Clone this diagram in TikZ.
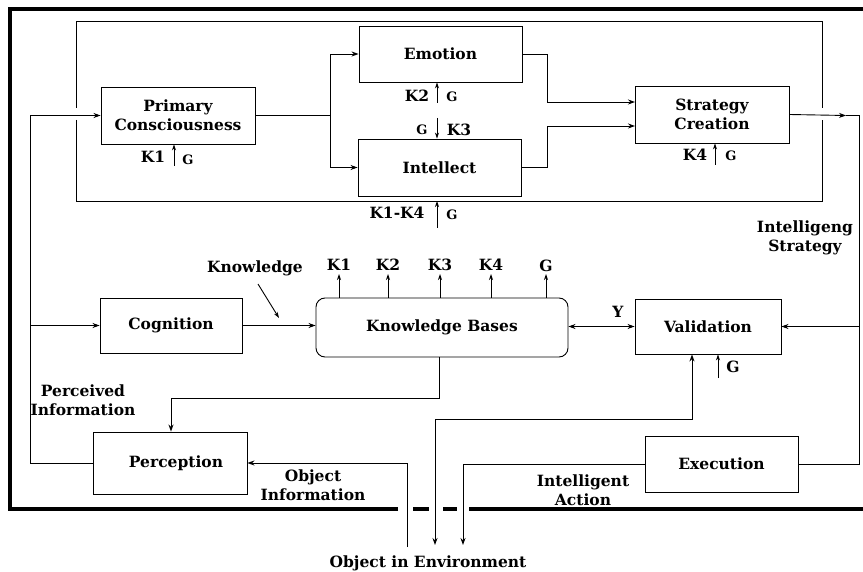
\documentclass[tikz,border=0pt]{standalone}
\usepackage{fontspec}
\setmainfont{DejaVu Serif}
\usetikzlibrary{arrows.meta}
\begin{document}
\begin{tikzpicture}[x=1pt,y=-1pt,
  font=\fontsize{15.5}{19}\selectfont\bfseries,
  ln/.style={line width=0.9pt},
  frame/.style={line width=3.3pt},
  arr/.style={ln,-{Stealth[length=7pt,width=5pt]}},
  darr/.style={ln,{Stealth[length=7pt,width=5pt]}-{Stealth[length=7pt,width=5pt]}},
  karr/.style={ln,-{Stealth[length=6pt,width=4pt]}},
  box/.style={draw,ln,inner sep=0pt,align=center},
  lbl/.style={inner sep=0pt,align=center}]
\useasboundingbox (0,0) rectangle (863,572);

% outer thick frame
\draw[frame,line join=miter] (398,509) -- (10,509) -- (10,9) -- (866,9);
\draw[frame] (413,509) -- (429,509);
\draw[frame] (443,509) -- (457,509);
\draw[frame] (469,509) -- (866,509);

% inner frame
\draw[ln] (76,108) -- (76,21) -- (822,21) -- (822,108);
\draw[ln] (76,120) -- (76,201) -- (822,201) -- (822,120);

% boxes
\node[box,minimum width=154pt,minimum height=57pt] (pc) at (178,115.5) {Primary\\Consciousness};
\node[box,minimum width=163pt,minimum height=56pt] (emo) at (440.5,54) {Emotion};
\node[box,minimum width=163pt,minimum height=57pt] (int) at (439.5,167.5) {Intellect};
\node[box,minimum width=154pt,minimum height=57pt] (sc) at (712,114.5) {Strategy\\Creation};
\node[box,minimum width=142pt,minimum height=55pt] (cog) at (171,325.5) {Cognition};
\node[box,rounded corners=9pt,minimum width=252pt,minimum height=59pt] (kb) at (442,327.5) {Knowledge Bases};
\node[box,minimum width=146pt,minimum height=55pt] (val) at (708,326.5) {Validation};
\node[box,minimum width=154pt,minimum height=62pt] (per) at (170,463) {\hspace*{12pt}Perception};
\node[box,minimum width=153pt,minimum height=56pt] (exe) at (721.5,464) {Execution};

% coordinates
\coordinate (lft) at (30,115.5);
\coordinate (sp) at (330,115.5);
\coordinate (e1) at (547,54);
\coordinate (e2) at (547,102);
\coordinate (e3) at (635,102);
\coordinate (i1) at (547,167.5);
\coordinate (i2) at (547,126);
\coordinate (i3) at (635,126);
\coordinate (s1) at (846,115.5);
\coordinate (rgt) at (859,115.5);
\coordinate (kbo) at (439,398);
\coordinate (pin) at (171,398);
\coordinate (obj) at (407,547);
\coordinate (vb) at (692,419);
\coordinate (vd) at (435,545);
\coordinate (xd) at (463,545);

% connectors
\draw[ln] (per.west) -| (lft);
\draw[arr] (lft) -- (pc.west);
\draw[arr] (cog.west -| lft) -- (cog.west);
\draw[ln] (pc.east) -- (sp);
\draw[arr] (sp) |- (emo.west);
\draw[arr] (sp) |- (int.west);
\draw[arr] (emo.east) -- (e1) -- (e2) -- (e3);
\draw[arr] (int.east) -- (i1) -- (i2) -- (i3);
\draw[arr] (sc.east) -- (s1);
\draw[ln] (s1) -- (rgt) |- (exe.east);
\draw[arr] (val.east -| rgt) -- (val.east);
\draw[arr] (cog.east) -- (cog.east -| kb.west);
\draw[darr] (val.west -| kb.east) -- (val.west);
\draw[ln] (kbo |- kb.south) -- (kbo) -- (pin);
\draw[arr] (pin) -- (pin |- per.north);
\draw[arr] (obj) |- (per.east);
\draw[darr] (vd) |- (vb) -- (vb |- val.south);
\draw[arr] (exe.west) -| (xd);

% K / G label arrows
\coordinate (a1) at (174,166);
\draw[karr] (a1) -- (a1 |- pc.south);
\node[lbl] (la1) at (153,157) {K1};
\node[lbl,font=\fontsize{13}{15}\selectfont\bfseries] (lg1) at (188,160) {G};

\coordinate (a2) at (437,103);
\draw[karr] (a2) -- (a2 |- emo.south);
\node[lbl] (la2) at (417,96) {K2};
\node[lbl,font=\fontsize{13}{15}\selectfont\bfseries] (lg2) at (452,97) {G};

\coordinate (a3) at (437,118);
\draw[karr] (a3) -- (a3 |- int.north);
\node[lbl,font=\fontsize{13}{15}\selectfont\bfseries] (lg3) at (422,130) {G};
\node[lbl] (la3) at (459,130) {K3};

\coordinate (a4) at (715,165);
\draw[karr] (a4) -- (a4 |- sc.south);
\node[lbl] (la4) at (695,155) {K4};
\node[lbl,font=\fontsize{13}{15}\selectfont\bfseries] (lg4) at (731,156) {G};

\coordinate (a5) at (437,228);
\coordinate (a5t) at (437,201);
\draw[karr] (a5) -- (a5t);
\node[lbl] (la5) at (397,213) {K1-K4};
\node[lbl,font=\fontsize{13}{15}\selectfont\bfseries] (lg5) at (452,215) {G};

\coordinate (b1) at (339,274);
\coordinate (b2) at (388,274);
\coordinate (b3) at (440,274);
\coordinate (b4) at (491,274);
\coordinate (b5) at (546,274);
\foreach \c in {b1,b2,b3,b4,b5} \draw[karr] (\c |- kb.north) -- (\c);
\node[lbl] (lb1) at (339,265) {K1};
\node[lbl] (lb2) at (388,265) {K2};
\node[lbl] (lb3) at (440,265) {K3};
\node[lbl] (lb4) at (491,265) {K4};
\node[lbl] (lb5) at (546,266) {G};

\coordinate (vg) at (718,378);
\draw[karr] (vg) -- (vg |- val.south);
\node[lbl] (lvg) at (733,367) {G};

% text labels
\node[lbl] (know) at (255,268) {Knowledge};
\coordinate (kn1) at (258,284);
\coordinate (kn2) at (279,318);
\draw[karr] (kn1) -- (kn2);
\node[lbl] (ly) at (618,312) {Y};
\node[lbl] (lis) at (805,238) {Intelligeng\\Strategy};
\node[lbl] (lpi) at (83,400) {Perceived\\Information};
\node[lbl] (loi) at (313,485) {Object\\Information};
\node[lbl] (lia) at (583,490) {Intelligent\\Action};
\node[lbl] (loe) at (428,563) {Object in Environment};
\end{tikzpicture}
\end{document}
